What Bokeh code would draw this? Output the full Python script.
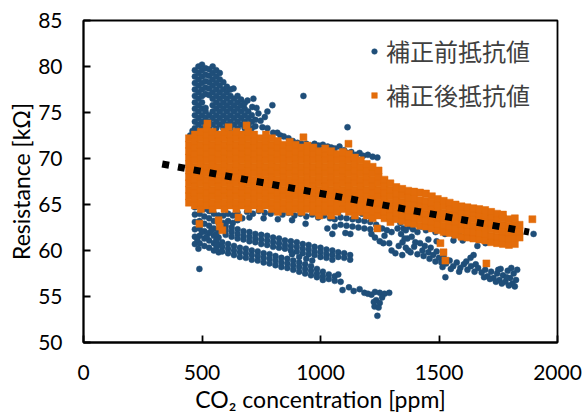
from bokeh.plotting import figure
from bokeh.models import Legend, LegendItem, Range1d
from bokeh.embed import file_html
from bokeh.resources import INLINE

# ---------------- data ----------------
x_ticks = [0, 500, 1000, 1500, 2000]
y_ticks = [50, 55, 60, 65, 70, 75, 80, 85]

# 補正前抵抗値 (before correction) -- (CO2 ppm, kΩ)
before_top = [
    (470, 72.6), (470, 73.3), (470, 74.0), (470, 74.7), (470, 75.4), (470, 76.1), (470, 76.8), (470, 77.5), (470, 78.2), (470, 78.9), (470, 79.6),
    (485, 73.0), (485, 73.7), (485, 74.4), (485, 75.1), (485, 75.8), (485, 76.5), (485, 77.2), (485, 77.9), (485, 78.6), (485, 79.3), (485, 80.0),
    (500, 73.3), (500, 74.0), (500, 74.7), (500, 75.4), (500, 76.1), (500, 76.8), (500, 77.5), (500, 78.2), (500, 78.9), (500, 79.6), (500, 80.2),
    (515, 73.7), (515, 74.4), (515, 75.1), (515, 75.5), (515, 77.0), (515, 77.7), (515, 78.4), (515, 79.1), (515, 79.8),
    (530, 73.3), (530, 74.0), (530, 74.7), (530, 76.9), (530, 77.6), (530, 78.3), (530, 79.0), (530, 79.7),
    (545, 73.7), (545, 74.4), (545, 75.1), (545, 75.8), (545, 76.5), (545, 77.2), (545, 77.9), (545, 78.6), (545, 79.3), (545, 80.0),
    (560, 73.3), (560, 74.0), (560, 74.7), (560, 75.4), (560, 76.1), (560, 76.8), (560, 77.5), (560, 78.2), (560, 78.9), (560, 79.6),
    (575, 73.7), (575, 74.4), (575, 75.1), (575, 75.8), (575, 76.5), (575, 77.2), (575, 77.9), (575, 78.6), (575, 79.3),
    (590, 73.3), (590, 74.0), (590, 74.7), (590, 75.4), (590, 76.1), (590, 76.8), (590, 77.5), (590, 78.3),
    (605, 73.7), (605, 74.4), (605, 75.1), (605, 75.8), (605, 76.5), (605, 77.2), (605, 77.8),
    (620, 73.3), (620, 74.0), (620, 74.7), (620, 75.4), (620, 76.1), (620, 76.8), (620, 77.5),
    (635, 73.7), (635, 74.4), (635, 75.1), (635, 75.8), (635, 76.5), (633, 77.6),
    (650, 73.3), (650, 74.0), (650, 74.7), (650, 75.4), (650, 76.1), (650, 76.8),
    (665, 73.7), (665, 74.4), (665, 75.1), (665, 75.8), (665, 76.4),
    (680, 73.3), (680, 74.0), (680, 74.7), (680, 75.4), (680, 76.0),
    (695, 73.7), (695, 74.4), (695, 75.1), (692, 76.3),
    (710, 73.3), (710, 74.0), (710, 74.7), (717, 76.5), (712, 75.6),
    (725, 73.5), (725, 74.2), (738, 74.9), (730, 75.5),
    (747, 74.1), (755, 73.4), (776, 75.1), (776, 73.3), (797, 75.8), (765, 74.5),
    (800, 72.8), (818, 72.8), (831, 72.5), (450, 72.5), (460, 73.0),
    (928, 76.8), (1114, 73.4),
]
before_upper = [
    (845, 72.4), (865, 72.2), (883, 71.9), (903, 71.7), (920, 71.6), (940, 71.6), (958, 71.4),
    (975, 71.6), (992, 71.4), (1010, 71.5), (1030, 71.3), (1045, 71.2), (1060, 71.1), (1080, 71.3),
    (1100, 70.9), (1115, 70.6), (1130, 70.7), (1150, 70.4), (1165, 70.6), (1180, 70.3),
    (1200, 70.4), (1220, 70.2), (1240, 70.1), (1262, 67.6),
]
before_left = [
    (470, 60.7), (470, 61.5), (470, 62.3), (470, 63.1), (470, 63.9), (470, 64.7),
    (490, 60.8), (490, 61.6), (490, 62.4), (490, 63.2), (490, 64.0), (490, 64.8),
    (510, 60.5), (510, 61.3), (510, 62.1), (510, 62.9), (510, 63.7), (510, 64.5),
    (530, 60.3), (530, 61.1), (530, 61.9), (530, 62.7), (530, 63.5), (530, 64.3),
    (550, 60.0), (550, 60.8), (550, 61.6), (550, 62.4), (550, 63.2), (550, 64.0),
    (570, 59.8), (570, 60.6), (570, 61.4), (570, 62.2), (570, 63.0), (570, 63.8),
    (590, 63.0), (590, 63.8), (610, 63.2), (610, 64.0), (630, 63.0), (630, 63.8),
    (650, 63.3), (650, 64.1), (670, 63.5), (485, 60.2), (489, 58.0),
    (480, 61.2), (500, 62.0), (520, 61.5), (540, 62.2), (560, 61.8), (580, 62.6),
]
before_thin = [
    (690, 64.2), (715, 64.0), (740, 64.3), (765, 64.1), (790, 64.0), (815, 64.2), (840, 63.9),
    (865, 64.1), (890, 63.8), (915, 64.0), (940, 63.7), (965, 63.9), (990, 63.6), (1015, 63.8),
    (1040, 63.5), (700, 63.6), (760, 63.5), (820, 63.4), (880, 63.3),
    (937, 62.9), (1029, 62.4), (1050, 61.8), (1105, 61.9), (1126, 61.8),
    (1060, 62.6), (1060, 63.4), (1085, 62.8), (1085, 63.6), (1110, 62.7), (1110, 63.5),
    (1135, 62.6), (1135, 63.4), (1160, 62.5), (1160, 63.3), (1185, 62.4), (1185, 63.2),
    (1210, 62.3), (1210, 63.1), (1075, 64.2), (1125, 64.2), (1175, 64.0), (1220, 63.6),
    (1235, 62.8), (1260, 62.4), (1280, 62.2), (1300, 62.0),
]
before_mid = [
    (600, 62.7), (600, 62.2), (600, 61.7), (625, 62.5), (625, 62.0), (625, 61.5),
    (650, 62.3), (650, 61.8), (650, 61.3), (675, 62.1), (675, 61.6), (675, 61.2),
    (700, 62.0), (700, 61.5), (700, 61.0), (725, 61.8), (725, 61.3), (725, 60.9),
    (750, 61.7), (750, 61.2), (750, 60.7), (775, 61.6), (775, 61.1), (775, 60.6),
    (800, 61.4), (800, 60.9), (800, 60.4), (825, 61.3), (825, 60.8), (825, 60.3),
    (850, 61.1), (850, 60.6), (850, 60.2), (875, 61.0), (875, 60.5), (875, 60.0),
    (900, 60.9), (900, 60.4), (900, 59.9), (925, 60.7), (925, 60.2), (925, 59.7),
    (950, 60.6), (950, 60.1), (950, 59.6), (975, 60.4), (975, 59.9), (975, 59.5),
    (1000, 60.3), (1000, 59.8), (1000, 59.3), (1025, 60.1), (1025, 59.6), (1025, 59.2),
    (1050, 60.0), (1050, 59.5), (1050, 59.0), (1075, 59.8), (1075, 59.3),
    (1100, 59.7), (1100, 59.2), (1125, 59.5), (1125, 59.0),
]
before_low = [
    (560, 61.1), (560, 60.6), (560, 60.1), (585, 60.9), (585, 60.4), (585, 59.9),
    (610, 60.7), (610, 60.2), (610, 59.7), (635, 60.5), (635, 60.0), (635, 59.5),
    (660, 60.3), (660, 59.8), (660, 59.3), (685, 60.2), (685, 59.7), (685, 59.2),
    (710, 60.0), (710, 59.5), (710, 59.0), (735, 59.9), (735, 59.4), (735, 58.9),
    (760, 59.7), (760, 59.2), (760, 58.7), (785, 59.6), (785, 59.1), (785, 58.6),
    (810, 59.4), (810, 58.9), (810, 58.4), (835, 59.2), (835, 58.7), (835, 58.2),
    (860, 59.1), (860, 58.6), (860, 58.1), (885, 58.9), (885, 58.4), (885, 57.9),
    (910, 58.7), (910, 58.2), (910, 57.7), (935, 58.5), (935, 58.0), (935, 57.5),
    (960, 58.3), (960, 57.8), (960, 57.3), (985, 58.0), (985, 57.5), (985, 57.1),
    (1010, 57.7), (1010, 57.2), (1010, 56.8), (1035, 57.4), (1035, 56.9),
    (1060, 57.2), (1060, 56.7), (880, 59.6), (910, 59.3), (940, 59.1), (965, 58.9),
    (1075, 57.4), (1085, 56.6),
]
before_tail = [
    (1093, 55.7), (1120, 56.0), (1140, 55.6), (1165, 55.8), (1185, 55.4), (1200, 55.3),
    (1215, 55.2), (1230, 55.5), (1250, 55.4), (1270, 55.3), (1290, 55.4), (1235, 54.6),
    (1250, 54.3), (1228, 53.9), (1245, 53.8), (1240, 52.9), (1260, 54.9), (1225, 54.4),
]
before_right = [
    (1215, 61.8), (1230, 61.4), (1250, 61.0), (1265, 60.8), (1270, 61.6), (1290, 60.8),
    (1300, 60.0), (1316, 59.7), (1325, 62.4), (1346, 60.9), (1360, 60.3), (1367, 61.3),
    (1380, 59.8), (1395, 60.4), (1409, 59.6), (1409, 62.0), (1350, 62.4), (1337, 63.0),
    (1345, 59.5), (1340, 61.8), (1360, 62.2), (1385, 61.5), (1400, 60.9), (1375, 62.6),
    (1330, 60.5), (1355, 61.3), (1390, 62.3), (1370, 60.0),
    (1425, 62.6), (1445, 62.2), (1465, 62.8), (1485, 62.0), (1505, 62.4), (1525, 61.8),
    (1545, 62.3), (1565, 61.6), (1585, 61.9), (1600, 61.1), (1620, 61.4), (1561, 61.1),
    (1646, 59.5), (1662, 60.5), (1696, 60.8), (1633, 59.2), (1899, 61.8),
    (1420, 60.8), (1430, 60.0), (1440, 60.5), (1455, 59.8), (1465, 60.3), (1475, 59.5),
    (1490, 59.9), (1500, 59.2), (1510, 58.7), (1520, 59.3), (1530, 58.6), (1545, 58.9),
    (1560, 58.3), (1575, 58.7), (1590, 58.1), (1605, 58.5), (1620, 57.9), (1635, 58.3),
    (1650, 57.7), (1665, 58.1), (1680, 57.6), (1695, 57.9), (1705, 57.2), (1720, 57.7),
    (1730, 57.0), (1745, 57.5), (1755, 56.8), (1770, 57.3), (1780, 56.6), (1790, 57.8),
    (1800, 57.0), (1810, 56.4), (1815, 57.5), (1825, 56.8), (1830, 57.9), (1805, 58.1),
    (1760, 58.0), (1740, 56.6), (1527, 57.1),
    (1435, 59.4), (1460, 59.1), (1485, 58.8), (1515, 58.2), (1550, 58.0), (1585, 57.7),
    (1615, 58.8), (1655, 58.5), (1690, 57.1), (1715, 56.9), (1765, 56.4), (1795, 56.2),
    (1820, 56.1), (1785, 57.1), (1750, 57.9), (1455, 61.2), (1490, 61.0),
]

# 補正後抵抗値 (after correction): columns of CO2 ppm with their resistance values
after_col_x = [445, 470, 495, 520, 545, 570, 595, 620, 645, 670, 695, 720, 745, 770, 795,
               820, 845, 870, 895, 920, 945, 970, 995, 1020, 1045, 1070, 1095, 1120, 1145,
               1170, 1195, 1220, 1245, 1270, 1295, 1320, 1345, 1370, 1395, 1420, 1445, 1470,
               1495, 1520, 1545, 1570, 1595, 1620, 1645, 1670, 1695, 1720, 1745, 1770, 1795,
               1820, 1840]
after_col_y = [
    [65.2, 65.9, 66.6, 67.3, 68.0, 68.7, 69.4, 70.1, 70.8, 71.5, 72.2],
    [64.9, 65.6, 66.3, 67.0, 67.7, 68.4, 69.1, 69.8, 70.5, 71.2, 71.9, 72.6],
    [64.5, 65.2, 65.9, 66.6, 67.3, 68.0, 68.7, 69.4, 70.1, 70.8, 71.5, 72.2, 72.9],
    [64.9, 65.6, 66.3, 67.0, 67.7, 68.4, 69.1, 69.8, 70.5, 71.2, 71.9, 72.6, 73.3],
    [64.5, 65.2, 65.9, 66.6, 67.3, 68.0, 68.7, 69.4, 70.1, 70.8, 71.5, 72.2, 72.9],
    [64.9, 65.6, 66.3, 67.0, 67.7, 68.4, 69.1, 69.8, 70.5, 71.2, 71.9, 72.6],
    [64.5, 65.2, 65.9, 66.6, 67.3, 68.0, 68.7, 69.4, 70.1, 70.8, 71.5, 72.2, 72.9],
    [64.9, 65.6, 66.3, 67.0, 67.7, 68.4, 69.1, 69.8, 70.5, 71.2, 71.9, 72.6],
    [64.5, 65.2, 65.9, 66.6, 67.3, 68.0, 68.7, 69.4, 70.1, 70.8, 71.5, 72.2, 72.9],
    [64.9, 65.6, 66.3, 67.0, 67.7, 68.4, 69.1, 69.8, 70.5, 71.2, 71.9, 72.6],
    [64.5, 65.2, 65.9, 66.6, 67.3, 68.0, 68.7, 69.4, 70.1, 70.8, 71.5, 72.2, 72.9],
    [64.9, 65.6, 66.3, 67.0, 67.7, 68.4, 69.1, 69.8, 70.5, 71.2, 71.9, 72.6],
    [64.5, 65.2, 65.9, 66.6, 67.3, 68.0, 68.7, 69.4, 70.1, 70.8, 71.5, 72.2],
    [64.9, 65.6, 66.3, 67.0, 67.7, 68.4, 69.1, 69.8, 70.5, 71.2, 71.9, 72.6],
    [64.5, 65.2, 65.9, 66.6, 67.3, 68.0, 68.7, 69.4, 70.1, 70.8, 71.5, 72.2],
    [64.2, 64.9, 65.6, 66.3, 67.0, 67.7, 68.4, 69.1, 69.8, 70.5, 71.2, 71.9],
    [64.5, 65.2, 65.9, 66.6, 67.3, 68.0, 68.7, 69.4, 70.1, 70.8, 71.5],
    [64.2, 64.9, 65.6, 66.3, 67.0, 67.7, 68.4, 69.1, 69.8, 70.5, 71.2, 71.8],
    [64.5, 65.2, 65.9, 66.6, 67.3, 68.0, 68.7, 69.4, 70.1, 70.8, 71.5],
    [64.2, 64.9, 65.6, 66.3, 67.0, 67.7, 68.4, 69.1, 69.8, 70.5, 71.2],
    [64.5, 65.2, 65.9, 66.6, 67.3, 68.0, 68.7, 69.4, 70.1, 70.8, 71.4],
    [64.2, 64.9, 65.6, 66.3, 67.0, 67.7, 68.4, 69.1, 69.8, 70.5, 71.2],
    [63.8, 64.5, 65.2, 65.9, 66.6, 67.3, 68.0, 68.7, 69.4, 70.1, 70.8],
    [64.2, 64.9, 65.6, 66.3, 67.0, 67.7, 68.4, 69.1, 69.8, 70.5, 71.1],
    [63.8, 64.5, 65.2, 65.9, 66.6, 67.3, 68.0, 68.7, 69.4, 70.1, 70.8],
    [64.2, 64.9, 65.6, 66.3, 67.0, 67.7, 68.4, 69.1, 69.8, 70.5],
    [64.5, 65.2, 65.9, 66.6, 67.3, 68.0, 68.7, 69.4, 70.1, 70.7],
    [64.2, 64.9, 65.6, 66.3, 67.0, 67.7, 68.4, 69.1, 69.8, 70.5],
    [63.8, 64.5, 65.2, 65.9, 66.6, 67.3, 68.0, 68.7, 69.4, 70.1],
    [64.2, 64.9, 65.6, 66.3, 67.0, 67.7, 68.4, 69.1, 69.8],
    [63.8, 64.5, 65.2, 65.9, 66.6, 67.3, 68.0, 68.7, 69.4],
    [63.5, 64.2, 64.9, 65.6, 66.3, 67.0, 67.7, 68.4, 69.1],
    [63.8, 64.5, 65.2, 65.9, 66.6, 67.3, 68.0, 68.7],
    [63.5, 64.2, 64.9, 65.6, 66.3, 67.0, 67.7],
    [63.1, 63.8, 64.5, 65.2, 65.9, 66.6, 67.3],
    [63.4, 64.1, 64.8, 65.5, 66.2, 66.9],
    [63.2, 63.9, 64.6, 65.3, 66.0, 66.7],
    [63.0, 63.7, 64.4, 65.1, 65.8, 66.5],
    [62.9, 63.6, 64.3, 65.0, 65.7, 66.4],
    [62.7, 63.4, 64.1, 64.8, 65.5, 66.3],
    [62.6, 63.3, 64.0, 64.7, 65.4, 66.2],
    [62.4, 63.1, 63.8, 64.5, 65.2, 65.9],
    [62.2, 62.9, 63.6, 64.3, 65.0, 65.6],
    [62.0, 62.7, 63.4, 64.1, 64.8, 65.4],
    [61.9, 62.6, 63.3, 64.0, 64.7, 65.2],
    [61.7, 62.4, 63.1, 63.8, 64.5, 65.0],
    [61.5, 62.2, 62.9, 63.6, 64.3, 64.8],
    [61.4, 62.1, 62.8, 63.5, 64.2, 64.7],
    [61.3, 62.0, 62.7, 63.4, 64.1, 64.6],
    [61.2, 61.9, 62.6, 63.3, 64.0, 64.5],
    [61.1, 61.8, 62.5, 63.2, 63.9, 64.4],
    [60.9, 61.6, 62.3, 63.0, 63.7, 64.2],
    [60.8, 61.5, 62.2, 62.9, 63.6, 64.0],
    [60.7, 61.4, 62.1, 62.8, 63.5, 63.9],
    [60.6, 61.3, 62.0, 62.7, 63.4],
    [60.7, 61.4, 62.1, 62.8, 63.5],
    [61.4, 62.1, 62.8],
]
after_extra = [
    (489, 62.9), (570, 63.3), (575, 62.6), (586, 62.2), (654, 63.6), (523, 73.8),
    (612, 73.4), (688, 73.6), (928, 72.3), (1118, 71.6), (1240, 62.4), (1506, 60.8),
    (1519, 59.8), (1527, 58.9), (1700, 58.6), (1894, 63.4),
]

# linear trend of the corrected values (dotted)
trend_x = [332, 1880]
trend_y = [69.4, 62.0]

# ---------------- build series ----------------
before_parts = [before_top, before_upper, before_left, before_thin,
                before_mid, before_low, before_tail, before_right]
bx = [pt[0] for part in before_parts for pt in part]
by = [pt[1] for part in before_parts for pt in part]

ax = [cx for cx, ys in zip(after_col_x, after_col_y) for _ in ys] + [pt[0] for pt in after_extra]
ay = [yv for ys in after_col_y for yv in ys] + [pt[1] for pt in after_extra]

BLUE = "#1F4E79"
ORANGE = "#E36C0A"
FONT = "Lato"

p = figure(frame_width=474, frame_height=322, output_backend="svg", toolbar_location=None,
           x_range=Range1d(0, 2000), y_range=Range1d(50, 85),
           min_border_left=83, min_border_right=25, min_border_top=20, min_border_bottom=71)
p.xgrid.visible = False
p.ygrid.visible = False
p.outline_line_color = "black"
p.outline_line_width = 1.8
p.background_fill_color = "white"
p.border_fill_color = "white"

r_b = p.scatter(bx, by, marker="circle", size=6, fill_color=BLUE, line_color=BLUE, line_width=0.5)
r_a = p.scatter(ax, ay, marker="square", size=7, fill_color=ORANGE, line_color=ORANGE, line_width=0.5)
p.line(trend_x, trend_y, line_color="black", line_width=7, line_dash="7 9", line_cap="butt")

for axis in (p.xaxis[0], p.yaxis[0]):
    axis.axis_line_color = "black"
    axis.axis_line_width = 1.8
    axis.major_tick_line_color = "black"
    axis.major_tick_line_width = 1.8
    axis.major_tick_in = 7
    axis.major_tick_out = 0
    axis.minor_tick_line_color = None
    axis.major_label_text_font = FONT
    axis.major_label_text_font_size = "21px"
    axis.major_label_text_color = "black"
    axis.axis_label_text_font = FONT
    axis.axis_label_text_font_size = "23px"
    axis.axis_label_text_font_style = "normal"
    axis.axis_label_text_color = "black"

p.xaxis.ticker = x_ticks
p.yaxis.ticker = y_ticks
p.xaxis.major_label_standoff = 22
p.yaxis.major_label_standoff = 21
p.xaxis.axis_label = "CO₂ concentration [ppm]"
p.yaxis.axis_label = "Resistance [kΩ]"
p.xaxis.axis_label_standoff = 2
p.yaxis.axis_label_standoff = 0

legend = Legend(items=[LegendItem(label="補正前抵抗値", renderers=[r_b]),
                       LegendItem(label="補正後抵抗値", renderers=[r_a])],
                location=(284, 230), margin=0, padding=0, spacing=9,
                glyph_width=14, glyph_height=14, label_height=34, label_standoff=5,
                label_text_font="Noto Sans CJK JP", label_text_font_size="24px",
                label_text_color="#404040",
                border_line_alpha=0, background_fill_alpha=0)
p.add_layout(legend)

open("out.html", "w").write(file_html(p, INLINE))
